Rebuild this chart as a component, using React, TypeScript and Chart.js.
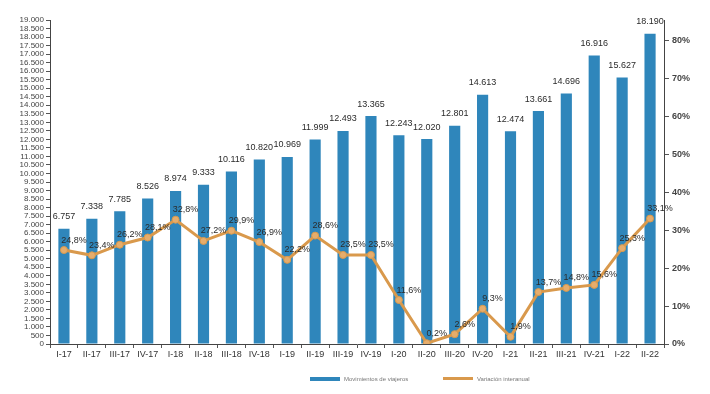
import React, { useEffect, useRef } from "react";
import { Chart, registerables } from "chart.js";

Chart.register(...registerables);

const categories = [
  "I-17", "II-17", "III-17", "IV-17",
  "I-18", "II-18", "III-18", "IV-18",
  "I-19", "II-19", "III-19", "IV-19",
  "I-20", "II-20", "III-20", "IV-20",
  "I-21", "II-21", "III-21", "IV-21",
  "I-22", "II-22",
];

const movements = [
  6757, 7338, 7785, 8526,
  8974, 9333, 10116, 10820,
  10969, 11999, 12493, 13365,
  12243, 12020, 12801, 14613,
  12474, 13661, 14696, 16916,
  15627, 18190,
];

const variation = [
  24.8, 23.4, 26.2, 28.1,
  32.8, 27.2, 29.9, 26.9,
  22.2, 28.6, 23.5, 23.5,
  11.6, 0.2, 2.6, 9.3,
  1.9, 13.7, 14.8, 15.6,
  25.3, 33.1,
];

const seriesNames = ["Movimientos de viajeros", "Variación interanual"];

const BAR_COLOR = "#2f86bb";
const LINE_COLOR = "#d9994c";
const POINT_COLOR = "#e6ad6c";
const TEXT_COLOR = "#2b2b2b";
const FONT = '"Liberation Sans", Arial, sans-serif';

const fmtThousands = (v: number) =>
  String(Math.round(v)).replace(/\B(?=(\d{3})+(?!\d))/g, ".");
const fmtPct = (v: number) => v.toFixed(1).replace(".", ",") + "%";

const labelsPlugin = {
  id: "valueLabels",
  afterDatasetsDraw(chart: any) {
    const ctx = chart.ctx;
    ctx.save();
    ctx.font = `9px ${FONT}`;
    ctx.fillStyle = TEXT_COLOR;
    ctx.textAlign = "center";
    ctx.textBaseline = "middle";
    const barMeta = chart.getDatasetMeta(0);
    barMeta.data.forEach((el: any, i: number) => {
      ctx.fillText(fmtThousands(movements[i]), el.x, el.y - 12);
    });
    const lineMeta = chart.getDatasetMeta(1);
    lineMeta.data.forEach((el: any, i: number) => {
      ctx.fillText(fmtPct(variation[i]), el.x + 10, el.y - 10);
    });
    ctx.restore();
  },
  afterDraw(chart: any) {
    const ctx = chart.ctx;
    ctx.save();
    ctx.font = `6px ${FONT}`;
    ctx.textAlign = "left";
    ctx.textBaseline = "middle";
    ctx.fillStyle = BAR_COLOR;
    ctx.fillRect(310, 377, 30, 4);
    ctx.fillStyle = "#777";
    ctx.fillText(seriesNames[0], 344, 379);
    ctx.fillStyle = LINE_COLOR;
    ctx.fillRect(443, 377, 30, 3);
    ctx.fillStyle = "#777";
    ctx.fillText(seriesNames[1], 477, 379);
    ctx.restore();
  },
};

export default function App() {
  const canvasRef = useRef<HTMLCanvasElement | null>(null);

  useEffect(() => {
    document.body.style.margin = "0";
    const canvas = canvasRef.current;
    if (!canvas) return;
    const chart = new Chart(canvas, {
      type: "bar",
      data: {
        labels: categories,
        datasets: [
          {
            type: "bar",
            label: seriesNames[0],
            data: movements,
            backgroundColor: BAR_COLOR,
            yAxisID: "y",
            order: 2,
            barPercentage: 0.8,
            categoryPercentage: 0.5,
          },
          {
            type: "line",
            label: seriesNames[1],
            data: variation,
            borderColor: LINE_COLOR,
            borderWidth: 3,
            backgroundColor: POINT_COLOR,
            pointBackgroundColor: POINT_COLOR,
            pointBorderColor: LINE_COLOR,
            pointBorderWidth: 1,
            pointRadius: 3.5,
            tension: 0,
            yAxisID: "y1",
            order: 1,
          },
        ],
      } as any,
      options: {
        animation: false,
        responsive: false,
        maintainAspectRatio: false,
        devicePixelRatio: 1,
        layout: { padding: { top: 20, left: 0, right: 0, bottom: 0 } },
        plugins: {
          legend: { display: false },
          tooltip: { enabled: false },
        },
        scales: {
          x: {
            offset: true,
            grid: {
              display: true,
              drawOnChartArea: false,
              offset: true,
              tickLength: 4,
              color: "#555",
            },
            border: { display: true, color: "#444", width: 1 },
            ticks: {
              color: "#333",
              font: { size: 9, family: FONT },
              padding: 1,
              autoSkip: false,
              maxRotation: 0,
            },
            afterFit: (scale: any) => {
              scale.height = 50;
            },
          },
          y: {
            position: "left",
            min: 0,
            max: 19000,
            ticks: {
              stepSize: 500,
              autoSkip: false,
              color: "#444",
              font: { size: 8, family: FONT },
              padding: 2,
              callback: (v: any) => fmtThousands(Number(v)),
            },
            grid: {
              display: true,
              drawOnChartArea: false,
              tickLength: 4,
              color: "#555",
            },
            border: { display: true, color: "#444", width: 1 },
            afterFit: (scale: any) => {
              scale.width = 50;
            },
          },
          y1: {
            position: "right",
            min: 0,
            max: 85.5,
            ticks: {
              stepSize: 10,
              color: "#444",
              font: { size: 9, family: FONT, weight: "bold" },
              padding: 3,
              callback: (v: any) => Math.round(Number(v)) + "%",
            },
            afterBuildTicks: (scale: any) => {
              scale.ticks = scale.ticks.filter(
                (t: any) => t.value <= 80 && Math.abs(t.value % 10) < 1e-6
              );
            },
            grid: {
              display: true,
              drawOnChartArea: false,
              tickLength: 5,
              color: "#555",
            },
            border: { display: true, color: "#444", width: 1 },
            afterFit: (scale: any) => {
              scale.width = 46;
            },
          },
        },
      } as any,
      plugins: [labelsPlugin],
    });
    return () => chart.destroy();
  }, []);

  return (
    <div style={{ width: 710, height: 394, position: "relative", background: "#fff" }}>
      <canvas ref={canvasRef} width={710} height={394} style={{ display: "block" }} />
    </div>
  );
}
